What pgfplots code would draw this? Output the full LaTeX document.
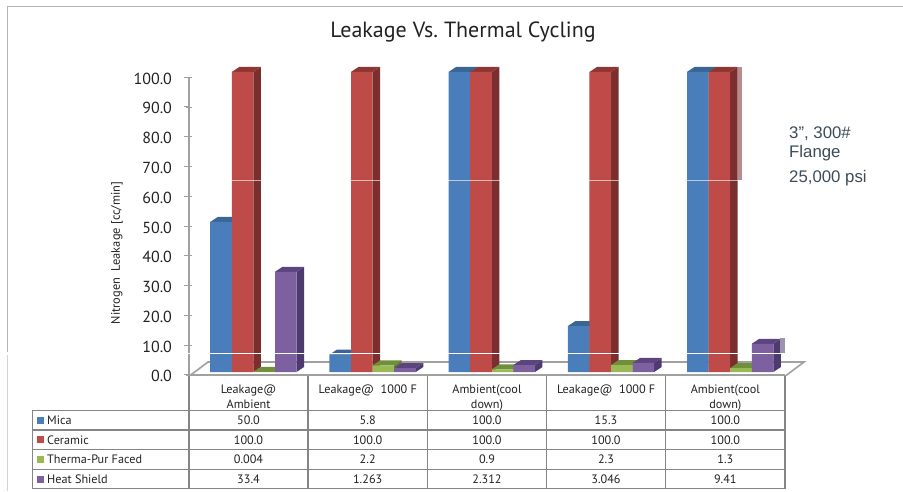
\documentclass[border=0pt]{standalone}
\usepackage{fontspec}
\setmainfont{PT Sans}
\newfontfamily\notefont{Liberation Sans}
\usepackage{pgfplots}
\pgfplotsset{compat=1.18}
\definecolor{cblue}{HTML}{4A7EBB}
\definecolor{cred}{HTML}{BE4B48}
\definecolor{cgreen}{HTML}{98B954}
\definecolor{cpurple}{HTML}{7D60A0}
\definecolor{sblue}{HTML}{2F5480}
\definecolor{sred}{HTML}{7A2E2E}
\definecolor{sgreen}{HTML}{5F7A30}
\definecolor{spurple}{HTML}{4E3A6E}
\definecolor{tblue}{HTML}{3A6594}
\definecolor{tred}{HTML}{8E3634}
\definecolor{tgreen}{HTML}{6F8F3A}
\definecolor{tpurple}{HTML}{5C447F}
\definecolor{axgray}{HTML}{A0A0A0}
\definecolor{tabgray}{HTML}{858585}
\definecolor{notecol}{HTML}{3C4C5A}
\definecolor{txt}{HTML}{222222}
% cap of one bar: category, bar shift (pt), value, side colour, top colour
\newcommand{\capone}[5]{%
  \pgfmathsetmacro\xb{#1+0.5+(#2+10.8)/119.2}%
  \pgfmathsetmacro\xc{\xb+7.5/119.2}%
  \pgfmathsetmacro\xa{\xb-21.6/119.2}%
  \pgfmathsetmacro\xd{\xa+7.5/119.2}%
  \pgfmathsetmacro\yt{#3}%
  \pgfmathsetmacro\yu{#3+5/3}%
  \edef\tmp{\noexpand\addplot[fill=#4,draw=none,forget plot] coordinates {(\xb,0)(\xc,1.667)(\xc,\yu)(\xb,\yt)};
    \noexpand\addplot[fill=#5,draw=none,forget plot] coordinates {(\xa,\yt)(\xb,\yt)(\xc,\yu)(\xd,\yu)};}%
  \tmp}
\begin{document}
\begin{tikzpicture}[x=1pt,y=1pt]
\path[use as bounding box] (0,0) rectangle (903,491);
\begin{scope}[shift={(0,491)},y=-1pt]
% frame
\draw[axgray!80,line width=0.8pt] (7.5,352) -- (7.5,6.5) -- (903,6.5);
\draw[axgray!45,line width=0.8pt] (7.5,355) -- (7.5,491);
% floor
\draw[axgray,line width=1.6pt] (190,375.5) -- (208,362) -- (804,362) -- (786,375.5);
\end{scope}
% value axis
\begin{axis}[
  at={(189pt,116pt)},anchor=south west,scale only axis,width=596pt,height=297.6pt,
  xmin=0,xmax=5,ymin=0,ymax=100,clip=false,
  axis lines=left,
  axis line style={draw=axgray,line width=1.8pt,-},
  ytick={0,10,...,100},
  xtick={0.5,1.5,2.5,3.5,4.5},
  xticklabels={{Leakage@\\Ambient},{Leakage@\ \ 1000 F},{Ambient(cool\\down)},{Leakage@\ \ 1000 F},{Ambient(cool\\down)}},
  x tick label style={font=\fontsize{12.2}{15}\selectfont,text=txt,align=center,anchor=north,yshift=-4pt},
  y tick label style={font=\fontsize{16}{18}\selectfont,text=txt,/pgf/number format/assume math mode=true,
     /pgf/number format/fixed,/pgf/number format/fixed zerofill,/pgf/number format/precision=1},
  yticklabel style={xshift=-11pt,yshift=-1.2pt},
  ytick style={draw=axgray,line width=1pt},
  xtick style={draw=none},
  major tick length=5pt,
  ylabel={Nitrogen\ \ Leakage [cc/min]},
  every axis y label/.style={at={(axis description cs:-0.121,0.41)},rotate=90,anchor=center,font=\fontsize{12.4}{15}\selectfont,text=txt},
]
\end{axis}
% bars
\begin{axis}[
  at={(189pt,119pt)},anchor=south west,scale only axis,width=596pt,height=300pt,
  xmin=0,xmax=5,ymin=0,ymax=100,hide axis,clip=false,
]
% Mica
\capone{0}{-27.6}{50.0}{sblue}{tblue}\capone{1}{-27.6}{5.8}{sblue}{tblue}\capone{2}{-27.6}{100}{sblue}{tblue}\capone{3}{-27.6}{15.3}{sblue}{tblue}\capone{4}{-27.6}{100}{sblue}{tblue}
\addplot[ybar,bar width=21.6pt,bar shift=-27.6pt,fill=cblue,draw=none] coordinates {(0.5,50.0)(1.5,5.8)(2.5,100.0)(3.5,15.3)(4.5,100.0)};
% Ceramic
\capone{0}{-6}{100}{sred}{tred}\capone{1}{-6}{100}{sred}{tred}\capone{2}{-6}{100}{sred}{tred}\capone{3}{-6}{100}{sred}{tred}\capone{4}{-6}{100}{sred}{tred}
\addplot[ybar,bar width=21.6pt,bar shift=-6pt,fill=cred,draw=none] coordinates {(0.5,100.0)(1.5,100.0)(2.5,100.0)(3.5,100.0)(4.5,100.0)};
% Therma-Pur Faced
\capone{0}{15.6}{0.004}{sgreen}{tgreen}\capone{1}{15.6}{2.2}{sgreen}{tgreen}\capone{2}{15.6}{0.9}{sgreen}{tgreen}\capone{3}{15.6}{2.3}{sgreen}{tgreen}\capone{4}{15.6}{1.3}{sgreen}{tgreen}
\addplot[ybar,bar width=21.6pt,bar shift=15.6pt,fill=cgreen,draw=none] coordinates {(0.5,0.004)(1.5,2.2)(2.5,0.9)(3.5,2.3)(4.5,1.3)};
% Heat Shield
\capone{0}{37.2}{33.4}{spurple}{tpurple}\capone{1}{37.2}{1.263}{spurple}{tpurple}\capone{2}{37.2}{2.312}{spurple}{tpurple}\capone{3}{37.2}{3.046}{spurple}{tpurple}\capone{4}{37.2}{9.41}{spurple}{tpurple}
\addplot[ybar,bar width=21.6pt,bar shift=37.2pt,fill=cpurple,draw=none] coordinates {(0.5,33.4)(1.5,1.263)(2.5,2.312)(3.5,3.046)(4.5,9.41)};
\end{axis}
\begin{scope}[shift={(0,491)},y=-1pt]
% axis lines and ticks
\draw[axgray,line width=1.8pt] (189.5,77) -- (189.5,375.5) -- (786,375.5);
\foreach \yy in {77.3,107,136.8,166.5,196.3,226,255.8,285.5,315.3,345,374.8} \draw[axgray,line width=1pt] (184,\yy) -- (189.5,\yy);
% scan artefacts
\fill[sred!55!white] (737.5,67) rectangle (742,180);
\fill[spurple!55!white] (780,338) rectangle (785,353);
\draw[white,line width=0.7pt,opacity=0.6] (225,180.3) -- (745,180.3);
\draw[white,line width=1pt] (170,353.6) -- (790,353.6);
% title and note
\node[text=txt,font=\fontsize{22}{26}\selectfont] at (463,32) {Leakage Vs.\ Thermal Cycling};
\node[anchor=base west,inner sep=0pt,text=notecol,font=\notefont\fontsize{16.8}{18}\selectfont] at (789,139) {3”, 300\#};
\node[anchor=base west,inner sep=0pt,text=notecol,font=\notefont\fontsize{16.8}{18}\selectfont] at (789,158) {Flange};
\node[anchor=base west,inner sep=0pt,text=notecol,font=\notefont\fontsize{16.8}{18}\selectfont] at (789,183) {25,000 psi};
% table
\draw[tabgray,line width=1.1pt] (32.5,410.5) rectangle (785,488.5);
\foreach \yy in {430,449.5,469.5} \draw[tabgray,line width=1.1pt] (32.5,\yy) -- (785,\yy);
\foreach \xx in {189,308,427.5,546.5,665.5,785} \draw[tabgray,line width=1.1pt] (\xx,376) -- (\xx,488.5);
\foreach \yy/\cc/\nn in {420.2/cblue/Mica,439.8/cred/Ceramic,459.5/cgreen/Therma-Pur Faced,479/cpurple/Heat Shield}{
  \fill[\cc] (37,\yy-3.5) rectangle (44,\yy+3.5);
  \node[anchor=west,inner sep=0pt,text=txt,font=\fontsize{12.2}{14}\selectfont] at (47,\yy) {\nn};
}
\foreach \yy/\a/\b/\c/\d/\e in {420.2/50.0/5.8/100.0/15.3/100.0,439.8/100.0/100.0/100.0/100.0/100.0,459.5/0.004/2.2/0.9/2.3/1.3,479/33.4/1.263/2.312/3.046/9.41}{
  \node[text=txt,font=\fontsize{12.2}{14}\selectfont] at (248.5,\yy) {\a};
  \node[text=txt,font=\fontsize{12.2}{14}\selectfont] at (367.7,\yy) {\b};
  \node[text=txt,font=\fontsize{12.2}{14}\selectfont] at (487,\yy) {\c};
  \node[text=txt,font=\fontsize{12.2}{14}\selectfont] at (606,\yy) {\d};
  \node[text=txt,font=\fontsize{12.2}{14}\selectfont] at (725.3,\yy) {\e};
}
\end{scope}
\end{tikzpicture}
\end{document}
